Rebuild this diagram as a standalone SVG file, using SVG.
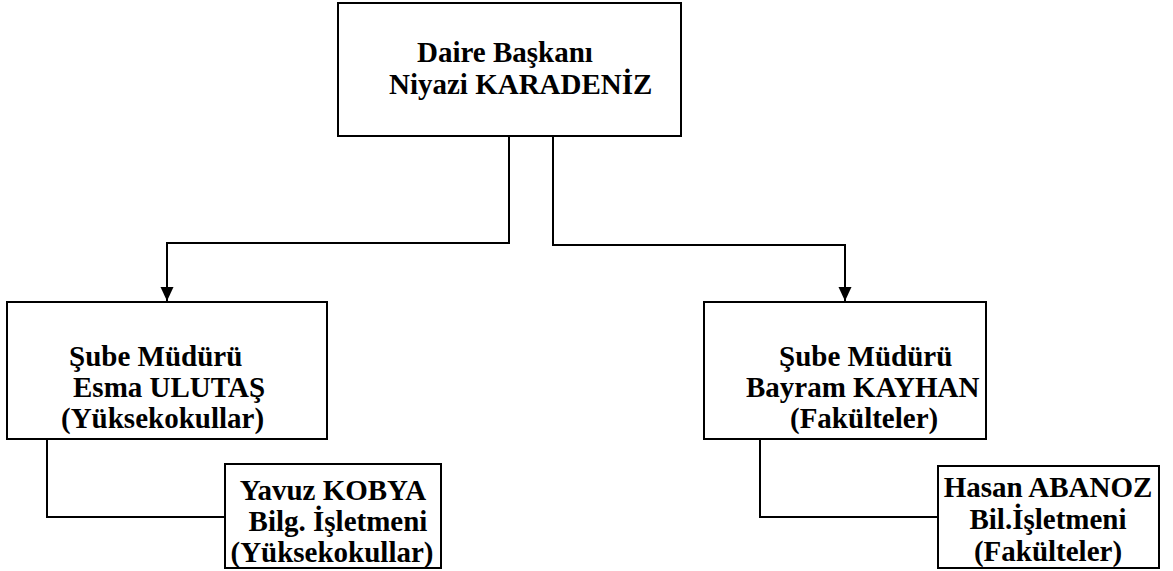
<svg xmlns="http://www.w3.org/2000/svg" width="1173" height="571" viewBox="0 0 1173 571">
<defs>
<style>
.box{fill:#fff;stroke:#000;stroke-width:2}
.t{font-family:"Liberation Serif","Times New Roman",serif;font-weight:bold;font-size:29px;fill:#000}
.c{fill:none;stroke:#000;stroke-width:2}
</style>
<marker id="ar" markerWidth="14" markerHeight="14" viewBox="0 0 14 14" refX="14" refY="7" orient="auto" markerUnits="userSpaceOnUse">
<path d="M0,0.5 L14,7 L0,13.5 Z" fill="#000"/>
</marker>
</defs>
<rect width="1173" height="571" fill="#fff"/>
<g id="connectors">
<path class="c" d="M509,136 V243 H167 V301" marker-end="url(#ar)"/>
<path class="c" d="M553,136 V245 H845 V301" marker-end="url(#ar)"/>
<path class="c" d="M47,439 V517 H225"/>
<path class="c" d="M760,439 V517 H938"/>
</g>
<g id="n-daire">
<rect class="box" x="338" y="3" width="343" height="133"/>
<text class="t" x="417" y="62">Daire Başkanı</text>
<text class="t" x="389" y="94">Niyazi KARADENİZ</text>
</g>
<g id="n-esma">
<rect class="box" x="7" y="302" width="320" height="137"/>
<text class="t" x="69" y="366">Şube Müdürü</text>
<text class="t" x="73" y="397">Esma ULUTAŞ</text>
<text class="t" x="61" y="428">(Yüksekokullar)</text>
</g>
<g id="n-bayram">
<rect class="box" x="704" y="302" width="282" height="137"/>
<text class="t" x="779" y="366">Şube Müdürü</text>
<text class="t" x="746" y="397">Bayram KAYHAN</text>
<text class="t" x="790" y="428">(Fakülteler)</text>
</g>
<g id="n-yavuz">
<rect class="box" x="225" y="464" width="216" height="104"/>
<text class="t" x="333" y="500" text-anchor="middle">Yavuz KOBYA</text>
<text class="t" x="338" y="531" text-anchor="middle">Bilg. İşletmeni</text>
<text class="t" x="332" y="562" text-anchor="middle">(Yüksekokullar)</text>
</g>
<g id="n-hasan">
<rect class="box" x="938" y="466" width="221" height="102"/>
<text class="t" x="1048" y="497" text-anchor="middle">Hasan ABANOZ</text>
<text class="t" x="1048" y="529" text-anchor="middle">Bil.İşletmeni</text>
<text class="t" x="1048" y="561" text-anchor="middle">(Fakülteler)</text>
</g>
</svg>
